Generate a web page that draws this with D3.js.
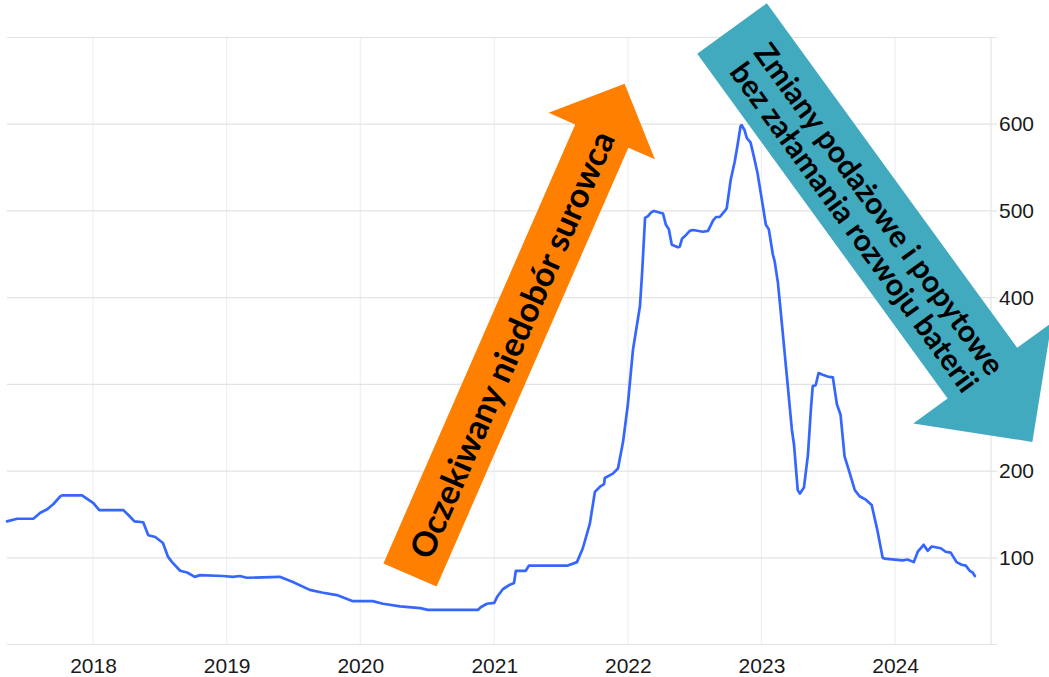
<!DOCTYPE html>
<html><head><meta charset="utf-8">
<script src="https://cdn.jsdelivr.net/npm/d3@7"></script>
<style>
html,body{margin:0;padding:0;background:#fff;}
svg{display:block;}
</style></head>
<body>
<svg id="chart" width="1049" height="677"></svg>
<script>
// ---- data ----
const dates = [
"2017-05-11","2017-06-08","2017-07-22","2017-08-10","2017-08-29","2017-09-15","2017-10-04","2017-10-09","2017-12-02","2017-12-19",
"2018-01-02","2018-01-18","2018-03-25","2018-04-13","2018-04-24","2018-05-18","2018-06-01","2018-06-20","2018-07-11","2018-07-25",
"2018-08-05","2018-08-27","2018-09-15","2018-10-06","2018-10-20","2018-12-22","2019-01-18","2019-02-06","2019-02-25","2019-05-26",
"2019-07-01","2019-08-16","2019-09-18","2019-10-29","2019-12-12","2020-02-04","2020-03-03","2020-04-19","2020-06-13","2020-07-04",
"2020-11-18","2020-11-25","2020-12-12","2021-01-01","2021-01-09","2021-01-25","2021-02-13","2021-02-24","2021-03-01","2021-03-28",
"2021-04-06","2021-07-21","2021-08-15","2021-08-31","2021-09-19","2021-10-03","2021-10-17","2021-10-28","2021-10-30","2021-11-21",
"2021-12-05","2021-12-19","2022-01-01","2022-01-15","2022-02-03","2022-02-09","2022-02-17","2022-02-25","2022-03-05","2022-03-13",
"2022-04-07","2022-04-15","2022-04-23","2022-05-01","2022-05-18","2022-05-23","2022-05-29","2022-06-06","2022-06-19","2022-06-28",
"2022-07-25","2022-08-08","2022-08-22","2022-08-30","2022-09-09","2022-09-23","2022-09-28","2022-10-09","2022-10-20","2022-10-28",
"2022-11-05","2022-11-08","2022-11-16","2022-11-22","2022-12-02","2022-12-10","2022-12-21","2023-01-02","2023-01-13","2023-01-21",
"2023-02-01","2023-02-06","2023-02-15","2023-02-26","2023-03-11","2023-03-25","2023-03-31","2023-04-10","2023-04-16","2023-04-27",
"2023-05-08","2023-05-16","2023-05-21","2023-05-29","2023-06-06","2023-06-17","2023-07-01","2023-07-15","2023-07-26","2023-08-05",
"2023-08-16","2023-08-27","2023-09-13","2023-09-26","2023-10-13","2023-10-29","2023-11-14","2023-11-28","2023-12-03","2024-01-22",
"2024-02-04","2024-02-21","2024-03-03","2024-03-19","2024-03-30","2024-04-10","2024-05-05","2024-05-18","2024-06-01","2024-06-17",
"2024-07-01","2024-07-12","2024-07-23","2024-07-31","2024-08-06"
];
const values = [
142,145,145,152,156,162,171,172,172,167,
163,155,155,147,142,141,126,124,117,101,
95,85,83,78,80,79,78,79,77,78,
72,63,60,57,50,50,47,44,42,40,
40,43,47,48,55,64,69,71,85,85,
91,91,95,111,139,176,182,185,192,197,
203,234,277,340,390,429,492,494,498,500,
497,484,479,461,458,459,468,471,477,478,
476,477,489,493,493,500,503,536,557,577,
598,599,593,584,579,565,544,513,484,479,
450,442,417,369,311,248,230,178,174,181,
219,271,298,299,313,311,309,308,277,265,
217,202,178,171,167,161,131,100,99,97,
98,95,107,115,108,113,111,107,106,95,
92,91,85,83,79
];
const xDomain = ["2017-05-11","2024-09-19"];
const yDomain = [0, 700];
const yTickValues = [100,200,300,400,500,600];
const yGridValues = [0,100,200,300,400,500,600,700];
const xTickYears = [2018,2019,2020,2021,2022,2023,2024];

const upText = "Oczekiwany niedobór surowca";
const downText = ["Zmiany podażowe i popytowe","bez załamania rozwoju baterii"];

// ---- layout ----
const svg = d3.select("#chart");
const parse = d3.timeParse("%Y-%m-%d");
const x = d3.scaleTime().domain(xDomain.map(parse)).range([7, 991]);
const y = d3.scaleLinear().domain(yDomain).range([644.5, 37.5]);
const data = dates.map((d,i)=>({date: parse(d), value: values[i]}));

// vertical grid
svg.append("g").selectAll("line").data(xTickYears).join("line")
  .attr("x1", d=>x(new Date(d,0,1))).attr("x2", d=>x(new Date(d,0,1)))
  .attr("y1", y(700)).attr("y2", y(0))
  .attr("stroke", "#ebf0f6").attr("stroke-width", 1.2);
// horizontal grid
svg.append("g").selectAll("line").data(yGridValues).join("line")
  .attr("x1", 7).attr("x2", 997)
  .attr("y1", d=>y(d)).attr("y2", d=>y(d))
  .attr("stroke", "#e3e3e3").attr("stroke-width", 1.2);
// right axis line
svg.append("line").attr("x1", 991).attr("x2", 991).attr("y1", y(700)).attr("y2", y(0))
  .attr("stroke", "#e3e3e3").attr("stroke-width", 1.2);

// x labels
const xAxis = d3.axisBottom(x).tickValues(xTickYears.map(d=>new Date(d,0,1)))
  .tickFormat(d3.timeFormat("%Y")).tickSize(0).tickPadding(0);
const gx = svg.append("g").attr("transform", "translate(0,672.5)").call(xAxis);
gx.select(".domain").remove();
gx.selectAll("text").attr("font-family","'Liberation Sans', Arial, sans-serif")
  .attr("font-size", 21).attr("fill","#1a1a1a").attr("dy","0");

// y labels
const yAxis = d3.axisRight(y).tickValues(yTickValues).tickSize(0).tickPadding(0);
const gy = svg.append("g").attr("transform", "translate(999,0)").call(yAxis);
gy.select(".domain").remove();
gy.selectAll("text").attr("font-family","'Liberation Sans', Arial, sans-serif")
  .attr("font-size", 21).attr("fill","#1a1a1a");

// line
const line = d3.line().x(d=>x(d.date)).y(d=>y(d.value)).curve(d3.curveLinear);
svg.append("path").datum(data).attr("d", line)
  .attr("fill","none").attr("stroke","#3567ff").attr("stroke-width",2.7)
  .attr("stroke-linejoin","round").attr("stroke-linecap","round");

// ---- arrows ----
function arrowPoints(bx, by, angDeg, halfW, headAlong, headHalf, tipAlong){
  const a = angDeg*Math.PI/180;
  const u = [Math.cos(a), Math.sin(a)];
  const n = [-Math.sin(a), Math.cos(a)];
  const p = (al, pe) => [bx + u[0]*al + n[0]*pe, by + u[1]*al + n[1]*pe];
  return [p(0,-halfW), p(headAlong,-halfW), p(headAlong,-headHalf), p(tipAlong,0),
          p(headAlong,headHalf), p(headAlong,halfW), p(0,halfW)];
}
function place(bx,by,angDeg,al,pe){
  const a = angDeg*Math.PI/180;
  return [bx + Math.cos(a)*al - Math.sin(a)*pe, by + Math.sin(a)*al + Math.cos(a)*pe];
}
const font = "Lato, 'Open Sans', sans-serif";
function fitText(t, target){
  t.attr("font-size", 30);
  const len = t.node().getComputedTextLength();
  return 30*target/len;
}

// orange arrow
const oB = [410,575], oAng = -66.4;
svg.append("polygon").attr("points", arrowPoints(oB[0],oB[1],oAng,29,479,58,536).map(p=>p.join(",")).join(" "))
  .attr("fill","#ff7f00");
const oc = place(oB[0],oB[1],oAng,252,0);
const ot = svg.append("text").text(upText)
  .attr("font-family",font).attr("font-weight",700).attr("fill","#000")
  .attr("text-anchor","middle").attr("dominant-baseline","central")
  .attr("transform",`translate(${oc[0]},${oc[1]}) rotate(${oAng})`);
ot.attr("font-size", fitText(ot, 462));

// teal arrow
const tB = [732,28.5], tAng = 54;
svg.append("polygon").attr("points", arrowPoints(tB[0],tB[1],tAng,43,426,85.5,511).map(p=>p.join(",")).join(" "))
  .attr("fill","#41aabf");
const offs = [-14.5, 16.5];
const tts = downText.map((s,i)=>{
  const c = place(tB[0],tB[1],tAng,232.6,offs[i]);
  return svg.append("text").text(s)
    .attr("font-family",font).attr("font-weight",700).attr("fill","#000")
    .attr("text-anchor","middle").attr("dominant-baseline","central")
    .attr("transform",`translate(${c[0]},${c[1]}) rotate(${tAng})`);
});
const fs1 = fitText(tts[0], 402), fs2 = fitText(tts[1], 398);
const fs = (fs1+fs2)/2;
tts.forEach(t=>t.attr("font-size", fs));
</script>
</body></html>
